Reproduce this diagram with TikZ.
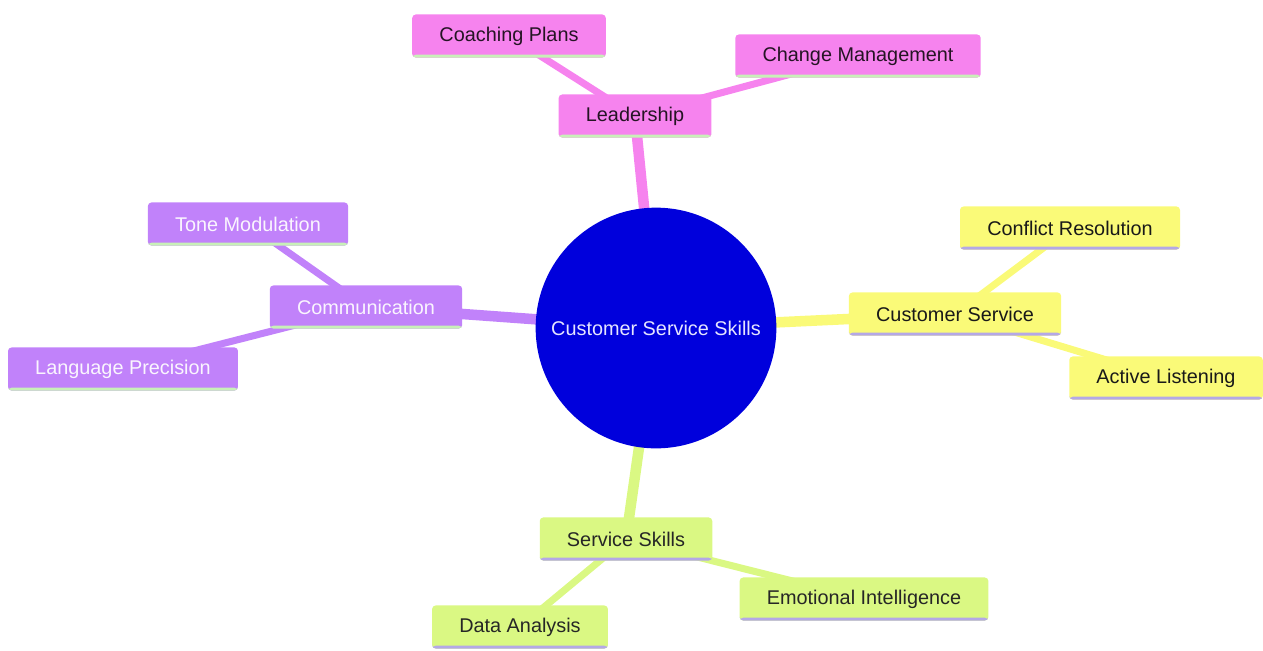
\documentclass[tikz,border=0pt]{standalone}
\usepackage{fontspec}
\setmainfont{Liberation Sans}
\usetikzlibrary{backgrounds}

\definecolor{lead}{HTML}{F683EE}
\definecolor{comm}{HTML}{C182FA}
\definecolor{cust}{HTML}{FAFA78}
\definecolor{serv}{HTML}{DAF883}
\definecolor{root}{HTML}{0000DC}
\definecolor{lineg}{HTML}{C8F0B8}
\definecolor{linep}{HTML}{B4A8E6}

\begin{document}
\begin{tikzpicture}[x=0.02cm,y=-0.02cm,
    every node/.style={font=\fontsize{11.3}{13}\selectfont},
    topic/.style 2 args={rectangle,rounded corners=2pt,fill=#1,inner xsep=15.5pt,
        minimum height=24.5pt,
        path picture={\fill[#2] ([yshift=1.6pt]path picture bounding box.south west)
                                rectangle (path picture bounding box.south east);}},
    branch/.style={line width=6pt},
    twig/.style={line width=4pt}]
    \useasboundingbox (0,0) rectangle (1263,650);
					\node (Root) at ( 656, 328) [circle,fill=root,minimum size=137pt,text=blue!10] {Customer Service Skills};
					\node (Lead) at ( 635, 116) [topic={lead}{lineg},text=black!85!lead] {Leadership};
					\node (Coach) at ( 509,  36) [topic={lead}{lineg},text=black!85!lead] {Coaching Plans};
					\node (Change) at ( 858,  56) [topic={lead}{lineg},text=black!85!lead] {Change Management};
					\node (Comm) at ( 366, 307) [topic={comm}{lineg},text=white!92!comm] {Communication};
					\node (Tone) at ( 248, 224) [topic={comm}{lineg},text=white!92!comm] {Tone Modulation};
					\node (Lang) at ( 123, 369) [topic={comm}{lineg},text=white!92!comm] {Language Precision};
					\node (Cust) at ( 955, 314) [topic={cust}{linep},text=black!90] {Customer Service};
					\node (Confl) at (1070, 228) [topic={cust}{linep},text=black!90] {Conflict Resolution};
					\node (Active) at (1166, 378) [topic={cust}{linep},text=black!90] {Active Listening};
					\node (Serv) at ( 626, 539) [topic={serv}{linep},text=black!85] {Service Skills};
					\node (Emo) at ( 864, 599) [topic={serv}{linep},text=black!85] {Emotional Intelligence};
					\node (Data) at ( 520, 627) [topic={serv}{linep},text=black!85] {Data Analysis};
					\begin{scope}[on background layer]
					\draw [branch,lead] (Root.center) -- (Lead.center);
					\draw [branch,comm] (Root.center) -- (Comm.center);
					\draw [branch,cust] (Root.center) -- (Cust.center);
					\draw [branch,serv] (Root.center) -- (Serv.center);
					\draw [twig,lead] (Lead.center) -- (Coach.center)
							  (Lead.center) -- (Change.center);
					\draw [twig,comm] (Comm.center) -- (Tone.center)
							  (Comm.center) -- (Lang.center);
					\draw [twig,cust] (Cust.center) -- (Confl.center)
							  (Cust.center) -- (Active.center);
					\draw [twig,serv] (Serv.center) -- (Emo.center)
							  (Serv.center) -- (Data.center);
					\end{scope}
				\end{tikzpicture}
\end{document}
